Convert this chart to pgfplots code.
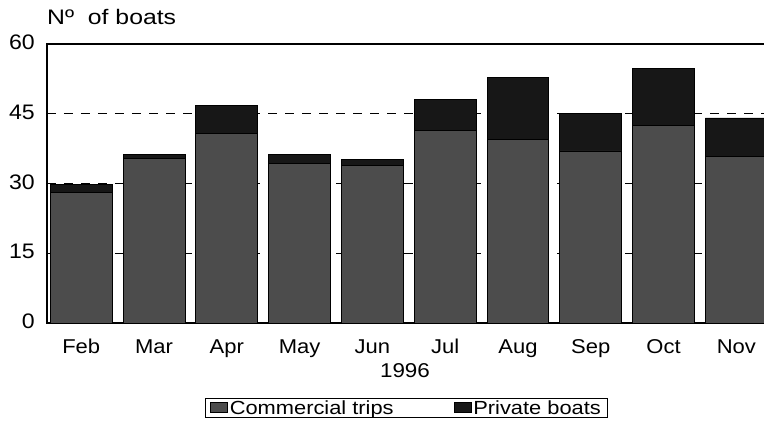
\documentclass[border=0pt]{standalone}
\usepackage{pgfplots}
\pgfplotsset{compat=1.18}
\usepackage{pgfplotstable}
\usepackage{fontspec}
\setmainfont{Liberation Sans}
\pgfplotstableread{
x comm priv
0 28.0 1.8
1 35.3 0.9
2 40.7 6.0
3 34.3 1.9
4 33.8 1.3
5 41.5 6.5
6 39.5 13.3
7 37.0 8.0
8 42.5 12.3
9 35.8 8.3
}\boats
\definecolor{commc}{gray}{0.30}
\definecolor{privc}{gray}{0.09}
\begin{document}
\begin{tikzpicture}
\begin{axis}[
  at={(0pt,0pt)}, anchor=south west,
  scale only axis, width=733pt, height=279pt,
  xmin=-0.47, xmax=9.6, ymin=0, ymax=60,
  ybar stacked, bar width=0.85,
  axis line style={line width=1.4pt},
  ytick={0,15,30,45,60},
  xtick={0,...,9},
  xticklabels={Feb,Mar,Apr,May,Jun,Jul,Aug,Sep,Oct,Nov},
  major tick length=0pt,
  /pgf/number format/assume math mode=true,
  ymajorgrids, axis on top=false,
  grid style={black, line width=1pt, dash pattern=on 9pt off 8pt},
  yticklabel style={font=\fontsize{21}{24}\selectfont, anchor=east, inner sep=0pt, xshift=-12pt, yshift=1.5pt, xscale=1.1},
  xticklabel style={font=\fontsize{20}{23}\selectfont, anchor=base, inner sep=0pt, yshift=-30pt, xscale=1.1},
  xlabel={1996},
  xlabel style={at={(axis description cs:0.4884,-0.172)}, anchor=center, font=\fontsize{20}{23}\selectfont, xscale=1.12},
  title={N\textordmasculine\ \ of boats},
  title style={at={(axis description cs:0,1)}, anchor=base west, inner sep=0pt, yshift=14pt, font=\fontsize{21}{25}\selectfont, xscale=1.18},
  legend columns=2,
  legend style={at={(axis description cs:0.4905,-0.305)}, anchor=center, draw=black, line width=0.8pt,
    font=\fontsize{19}{22}\selectfont, inner xsep=5pt, inner ysep=1pt,
    nodes={inner xsep=2pt, inner ysep=1pt},
    /tikz/every even column/.append style={column sep=58pt}},
  legend image code/.code={\draw[#1, draw=black, line width=0.6pt] (0pt,-4pt) rectangle (17pt,6pt);},
]
\addplot[fill=commc, draw=black, line width=0.8pt] table[x=x, y=comm] {\boats};
\addplot[fill=privc, draw=black, line width=0.8pt] table[x=x, y=priv] {\boats};
\legend{\scalebox{1.15}[1]{Commercial trips}, \scalebox{1.15}[1]{Private boats}}
\end{axis}
\pgfresetboundingbox
\path[use as bounding box] (-47pt,-101pt) rectangle (717pt,323pt);
\end{tikzpicture}
\end{document}
